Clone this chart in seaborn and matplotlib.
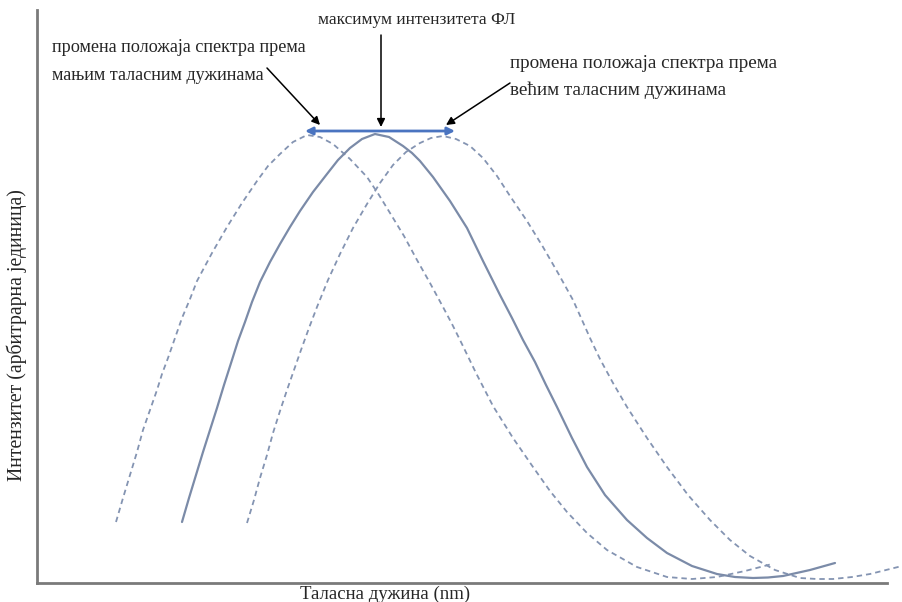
import matplotlib
matplotlib.use("Agg")
import matplotlib.pyplot as plt
import seaborn as sns
import pandas as pd

# Emission spectra (arbitrary units): wavelength position and intensity
base_wl = [145, 152, 159, 166, 173, 180, 187, 195, 201, 208,
           215, 223, 233, 243, 253, 263, 276, 290, 301, 313,
           325, 338, 352, 366, 375, 383, 396, 413, 430, 446,
           463, 475, 486, 498, 509, 520, 535, 550, 568, 590,
           610, 630, 655, 680, 698, 716, 731, 746, 773, 798]
base_int = [61, 85, 108, 131, 153, 175, 198, 223, 242, 261,
            281, 301, 321, 339, 356, 372, 391, 409, 423, 435,
            444, 449, 446, 437, 430, 422, 406, 382, 355, 322,
            288, 265, 243, 221, 198, 176, 145, 116, 88, 63,
            45, 30, 17, 9, 6, 5, 5.5, 7, 13, 20]

blue_wl = [79, 86, 93, 100, 106, 113, 120, 125, 131, 138,
           145, 153, 160, 175, 190, 205, 220, 231, 243, 256,
           270, 283, 296, 313, 330, 342, 353, 367, 380, 393,
           406, 415, 423, 439, 456, 476, 496, 513, 530, 550,
           570, 600, 630, 655, 680, 708, 735]
blue_int = [61, 85, 108, 131, 153, 173, 193, 209, 225, 245,
            265, 284, 302, 330, 356, 380, 402, 417, 429, 441,
            448, 446, 439, 424, 406, 388, 370, 347, 323, 300,
            276, 259, 243, 210, 177, 145, 116, 92, 71, 50,
            33, 16, 6, 4, 6, 12, 19]

red_wl = [210, 217, 223, 230, 236, 243, 250, 257, 264, 272,
          280, 291, 303, 316, 330, 343, 356, 369, 383, 394,
          406, 419, 433, 446, 460, 473, 490, 506, 521, 536,
          545, 553, 563, 576, 590, 610, 630, 651, 673, 693,
          713, 738, 763, 780, 796, 815, 833, 849, 865]
red_int = [60, 83, 105, 128, 150, 172, 193, 213, 233, 255,
           276, 303, 329, 355, 379, 400, 418, 431, 440, 445,
           447, 444, 437, 425, 407, 387, 362, 336, 310, 283,
           263, 245, 224, 200, 176, 145, 116, 88, 63, 43,
           27, 13, 5, 4, 4, 6, 9, 13, 17]

wl_max = 850
int_max = 573

sns.set_style("white")
plt.rcParams["font.family"] = ["Liberation Serif", "DejaVu Serif"]

fig = plt.figure(figsize=(9.02, 6.02), dpi=100)
ax = fig.add_axes([37 / 902, 19 / 602, 850 / 902, 573 / 602])

line_col = "#7b8ba8"
dash_col = "#8494b2"

df_base = pd.DataFrame({"wl": base_wl, "i": base_int})
df_blue = pd.DataFrame({"wl": blue_wl, "i": blue_int})
df_red = pd.DataFrame({"wl": red_wl, "i": red_int})

dash = (0, (3.0, 2.2))
sns.lineplot(data=df_blue, x="wl", y="i", sort=False, ax=ax, color=dash_col,
             lw=1.3, linestyle=dash, clip_on=False)
sns.lineplot(data=df_red, x="wl", y="i", sort=False, ax=ax, color=dash_col,
             lw=1.3, linestyle=dash, clip_on=False)
sns.lineplot(data=df_base, x="wl", y="i", sort=False, ax=ax, color=line_col,
             lw=1.6, clip_on=False)
for ln in ax.get_lines():
    ln.set_solid_joinstyle("round")
    ln.set_dash_joinstyle("round")

ax.set_xlim(0, wl_max)
ax.set_ylim(0, int_max)
ax.set_xticks([])
ax.set_yticks([])
ax.set_xlabel("")
ax.set_ylabel("")
for side in ("top", "right"):
    ax.spines[side].set_visible(False)
for side in ("left", "bottom"):
    ax.spines[side].set_color("#7a7a7a")
    ax.spines[side].set_linewidth(2)

# Shift of the spectrum maximum
peak_blue = blue_wl[blue_int.index(max(blue_int))]
peak_red = red_wl[red_int.index(max(red_int))]
peak_base = base_wl[base_int.index(max(base_int))]
y_top = max(base_int) + 3
ax.annotate("", xy=(peak_blue - 2, y_top), xytext=(peak_red + 12, y_top),
            arrowprops=dict(arrowstyle="<|-|>", color="#4a74c0", lw=2,
                            mutation_scale=11, shrinkA=0, shrinkB=0),
            annotation_clip=False)

arrow_kw = dict(arrowstyle="-|>", color="black", lw=1.1, mutation_scale=12,
                shrinkA=0, shrinkB=0)
ax.annotate("", xy=(peak_base + 6, y_top + 4), xytext=(peak_base + 6, 548),
            arrowprops=arrow_kw, annotation_clip=False)
ax.annotate("", xy=(peak_blue + 13, y_top + 6), xytext=(peak_blue - 40, 515),
            arrowprops=arrow_kw, annotation_clip=False)
ax.annotate("", xy=(peak_red + 3, y_top + 6), xytext=(peak_red + 67, 500),
            arrowprops=arrow_kw, annotation_clip=False)

ax.text(380, 563, "максимум интензитета ФЛ", ha="center", va="center",
        fontsize=12.5)
ax.text(15, 535, "промена положаја спектра према", ha="left", va="center",
        fontsize=13.1)
ax.text(15, 508, "мањим таласним дужинама", ha="left", va="center",
        fontsize=13.1)
ax.text(473, 520, "промена положаја спектра према", ha="left", va="center",
        fontsize=13.75)
ax.text(473, 493, "већим таласним дужинама", ha="left", va="center",
        fontsize=13.75)

fig.text(385 / 902, 1 - 594 / 602, "Таласна дужина (nm)", ha="center",
         va="center", fontsize=13.5)
fig.text(17 / 902, 1 - 335 / 602, "Интензитет (арбитрарна јединица)",
         ha="center", va="center", rotation=90, fontsize=14.2)

fig.savefig("out.png", dpi=100)
